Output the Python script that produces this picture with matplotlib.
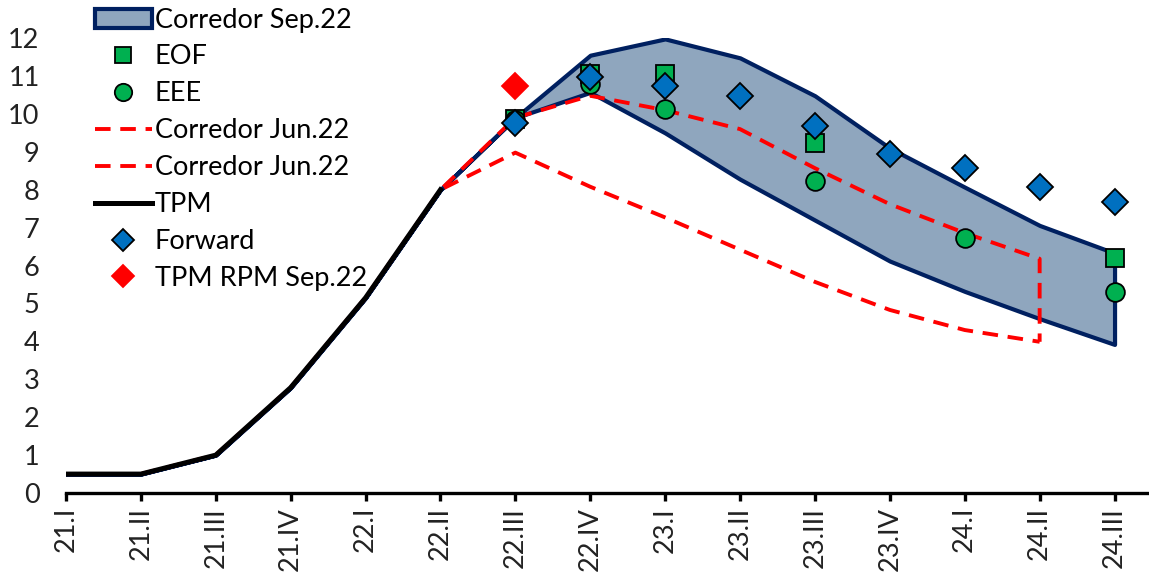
import numpy as np
import matplotlib.pyplot as plt
from matplotlib.patches import Patch
from matplotlib.lines import Line2D

plt.rcParams['font.family'] = ['Lato', 'DejaVu Sans']

nan = np.nan
quarters = ['21.I', '21.II', '21.III', '21.IV', '22.I', '22.II', '22.III', '22.IV',
            '23.I', '23.II', '23.III', '23.IV', '24.I', '24.II', '24.III']

# history shared by every corridor (21.I - 22.II)
tpm = [0.5, 0.5, 1.0, 2.78, 5.15, 8.0]
sep_upper = tpm + [9.9, 11.55, 11.98, 11.48, 10.48, 9.1, 8.07, 7.06, 6.33]
sep_lower = tpm + [9.9, 10.57, 9.5, 8.28, 7.2, 6.12, 5.32, 4.6, 3.92]
jun_upper = tpm + [9.9, 10.48, 10.1, 9.6, 8.57, 7.62, 6.86, 6.18]
jun_lower = tpm + [8.98, 8.08, 7.27, 6.42, 5.57, 4.83, 4.3, 3.99]
eof = [nan]*6 + [9.88, 11.05, 11.05, nan, 9.23, nan, nan, nan, 6.2]
eee = [nan]*6 + [9.85, 10.8, 10.13, nan, 8.23, nan, 6.74, nan, 5.31]
forward = [nan]*6 + [9.75, 10.98, 10.75, 10.47, 9.67, 8.94, 8.57, 8.08, 7.69]
tpm_rpm = [nan]*6 + [10.75] + [nan]*8

navy = '#002060'
band = '#8FA6BE'
red = '#FF0000'
green = '#00B050'
blue = '#0070C0'
fs = 19.5
dash = (4, 2.5)

x = np.arange(len(quarters))
fig = plt.figure(figsize=(11.49, 5.78), dpi=100)
ax = fig.add_axes([0.0574, 0.147, 1 - 0.0574, 0.787])

ax.fill_between(x, sep_lower, sep_upper, facecolor=band, edgecolor=navy,
                linewidth=3, zorder=1)

# Jun.22 corridor ends at 24.II, closed with a vertical drop
xj = list(range(len(jun_upper))) + [len(jun_upper) - 1]
ax.plot(xj, jun_upper + [jun_lower[-1]], color=red, lw=2.8, dashes=dash,
        zorder=2)
ax.plot(range(len(jun_lower)), jun_lower, color=red, lw=2.8, dashes=dash,
        zorder=2)
ax.plot(range(len(tpm)), tpm, color='black', lw=3.6, zorder=3)

ax.plot(x, eof, ls='none', marker='s', ms=13, mfc=green, mec='black',
        mew=1.3, zorder=4)
ax.plot(x, eee, ls='none', marker='o', ms=13.5, mfc=green, mec='black',
        mew=1.3, zorder=5)
ax.plot(x, forward, ls='none', marker='D', ms=13, mfc=blue, mec='black',
        mew=1.3, zorder=6)
ax.plot(x, tpm_rpm, ls='none', marker='D', ms=13, mfc=red, mec=red,
        mew=1.3, zorder=6)

ax.set_xlim(0, 14.46)
ax.set_ylim(0, 12)
ax.set_yticks(range(0, 13))
ax.set_xticks(x)
ax.set_xticklabels(quarters, rotation=90)
for s in ['top', 'right', 'left']:
    ax.spines[s].set_visible(False)
ax.spines['bottom'].set_linewidth(2.4)
ax.tick_params(axis='x', length=6, width=2.4, labelsize=fs, pad=4,
               colors='black', labelcolor='#222222')
ax.tick_params(axis='y', length=0, labelsize=fs, pad=19, colors='#222222')

handles = [
    Patch(facecolor=band, edgecolor=navy, linewidth=3),
    Line2D([], [], ls='none', marker='s', ms=12, mfc=green, mec='black', mew=1.3),
    Line2D([], [], ls='none', marker='o', ms=12.5, mfc=green, mec='black', mew=1.3),
    Line2D([], [], color=red, lw=2.8, dashes=dash),
    Line2D([], [], color=red, lw=2.8, dashes=dash),
    Line2D([], [], color='black', lw=3.6),
    Line2D([], [], ls='none', marker='D', ms=11, mfc=blue, mec='black', mew=1.3),
    Line2D([], [], ls='none', marker='D', ms=11, mfc=red, mec=red, mew=1.3),
]
labels = ['Corredor Sep.22', 'EOF', 'EEE', 'Corredor Jun.22', 'Corredor Jun.22',
          'TPM', 'Forward', 'TPM RPM Sep.22']
fig.legend(handles, labels, loc='upper left', bbox_to_anchor=(0.079, 0.994),
           frameon=False, fontsize=fs, handlelength=2.1, handletextpad=0.12,
           labelspacing=0.44, borderaxespad=0, borderpad=0.15)

fig.savefig('out.png', dpi=100)
